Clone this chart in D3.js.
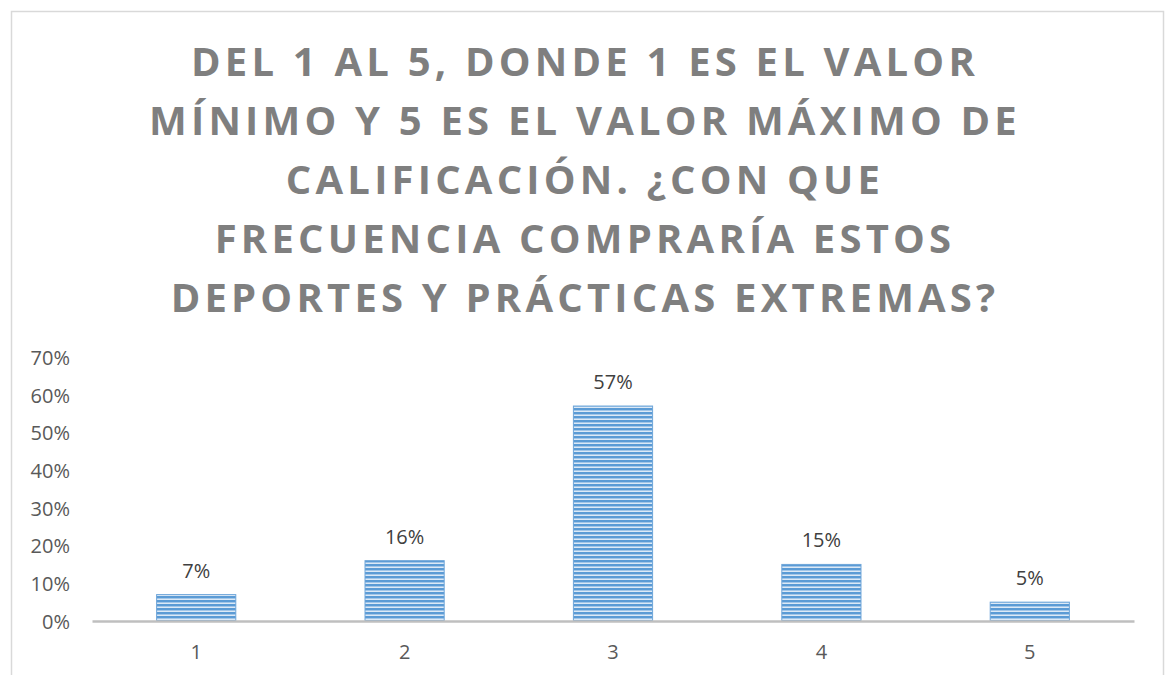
<!DOCTYPE html>
<html>
<head>
<meta charset="utf-8">
<script src="https://cdn.jsdelivr.net/npm/d3@7"></script>
<style>
  body { margin: 0; background: #fff; }
  svg { display: block; font-family: "Open Sans", sans-serif; }
</style>
</head>
<body>
<svg id="chart" width="1166" height="675"></svg>
<script>
// chart data
const titleLines = [
  "DEL 1 AL 5, DONDE 1 ES EL VALOR",
  "MÍNIMO Y 5 ES EL VALOR MÁXIMO DE",
  "CALIFICACIÓN. ¿CON QUE",
  "FRECUENCIA COMPRARÍA ESTOS",
  "DEPORTES Y PRÁCTICAS EXTREMAS?"
];
const categories = ["1", "2", "3", "4", "5"];
const values = [0.07, 0.16, 0.57, 0.15, 0.05];
const yTicks = [0, 0.1, 0.2, 0.3, 0.4, 0.5, 0.6, 0.7];

const svg = d3.select("#chart");
const width = 1166, height = 675;
const margin = { left: 92, right: 32, top: 357, bottom: 54 };

// outer frame (bottom edge is cut off)
svg.append("rect")
  .attr("x", 11.5).attr("y", 11.5)
  .attr("width", 1152).attr("height", 720)
  .attr("fill", "#fff")
  .attr("stroke", "#d9d9d9")
  .attr("stroke-width", 1.5);

// striped fill for bars
const defs = svg.append("defs");
const pat = defs.append("pattern")
  .attr("id", "stripes")
  .attr("patternUnits", "userSpaceOnUse")
  .attr("width", 8).attr("height", 4);
pat.append("rect").attr("x", 0).attr("y", 0).attr("width", 8).attr("height", 4).attr("fill", "#dce9f6");
pat.append("rect").attr("x", 0).attr("y", 0).attr("width", 8).attr("height", 2).attr("fill", "#5b9bd5");
pat.append("rect").attr("x", 0).attr("y", 2).attr("width", 8).attr("height", 0.8).attr("fill", "#94bee5");

// title
const title = svg.append("text")
  .attr("text-anchor", "middle")
  .attr("fill", "#7f7f7f")
  .attr("font-size", 40)
  .attr("font-weight", "bold")
  .style("letter-spacing", "4.2px");
titleLines.forEach((t, i) => {
  title.append("tspan")
    .attr("x", width / 2 + 2)
    .attr("y", 76 + i * 59)
    .text(t);
});

const x = d3.scaleBand()
  .domain(categories)
  .range([margin.left, width - margin.right])
  .paddingInner(0.62)
  .paddingOuter(0.31);

const y = d3.scaleLinear()
  .domain([0, 0.7])
  .range([height - margin.bottom, margin.top]);

// y axis labels
const yAxis = svg.append("g")
  .attr("transform", `translate(${margin.left - 22},1)`)
  .call(d3.axisLeft(y).tickValues(yTicks).tickFormat(d3.format(".0%")).tickSize(0).tickPadding(0));
yAxis.select(".domain").remove();
yAxis.selectAll("text")
  .attr("font-size", 20)
  .attr("fill", "#595959")
  .attr("font-family", "Open Sans, sans-serif");

// bars
svg.append("g").selectAll("rect")
  .data(values)
  .join("rect")
  .attr("x", (d, i) => x(categories[i]))
  .attr("y", d => y(d))
  .attr("width", x.bandwidth())
  .attr("height", d => y(0) - y(d))
  .attr("fill", "url(#stripes)")
  .attr("stroke", "#6fa6d9")
  .attr("stroke-width", 1);

// data labels
svg.append("g").selectAll("text")
  .data(values)
  .join("text")
  .attr("x", (d, i) => x(categories[i]) + x.bandwidth() / 2)
  .attr("y", d => y(d) - 17)
  .attr("text-anchor", "middle")
  .attr("font-size", 20)
  .attr("fill", "#404040")
  .text(d => d3.format(".0%")(d));

// x axis
const xAxis = svg.append("g")
  .attr("transform", `translate(0,${y(0)})`)
  .call(d3.axisBottom(x).tickSize(0).tickPadding(24));
xAxis.select(".domain")
  .attr("stroke", "#bfbfbf")
  .attr("stroke-width", 2.5);
xAxis.selectAll("text")
  .attr("font-size", 20)
  .attr("fill", "#595959")
  .attr("font-family", "Open Sans, sans-serif");
</script>
</body>
</html>
